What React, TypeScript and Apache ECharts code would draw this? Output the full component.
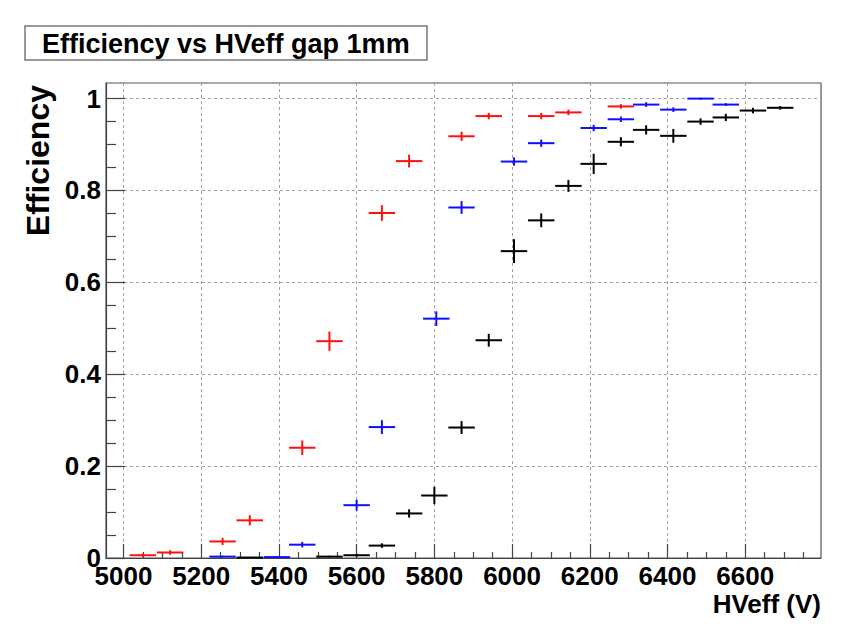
import React, { useEffect, useRef } from "react";
import * as echarts from "echarts";

// ---- data (HVeff in V, efficiency, x half-width, y error) ----
const X_HALF_WIDTH = 34;

const redX = [5050, 5120, 5255, 5325, 5460, 5530, 5665, 5735, 5870, 5940, 6075, 6145, 6280];
const redY = [0.006, 0.012, 0.036, 0.082, 0.240, 0.472, 0.751, 0.864, 0.918, 0.962, 0.962, 0.970, 0.983];
const redErr = [0.004, 0.005, 0.008, 0.011, 0.016, 0.021, 0.017, 0.014, 0.010, 0.007, 0.007, 0.006, 0.005];

const blueX = [5255, 5395, 5460, 5600, 5665, 5805, 5870, 6005, 6075, 6210, 6280, 6345, 6415, 6485, 6550];
const blueY = [0.003, 0.002, 0.029, 0.115, 0.285, 0.521, 0.763, 0.863, 0.903, 0.936, 0.955, 0.987, 0.976, 1.0, 0.987];
const blueErr = [0.002, 0.002, 0.006, 0.012, 0.015, 0.016, 0.014, 0.009, 0.008, 0.007, 0.006, 0.005, 0.005, 0.002, 0.003];

const blackX = [5325, 5530, 5600, 5665, 5735, 5800, 5870, 5940, 6005, 6075, 6145, 6210, 6280, 6345, 6415, 6485, 6550, 6620, 6690];
const blackY = [0.001, 0.003, 0.006, 0.027, 0.097, 0.136, 0.284, 0.474, 0.668, 0.735, 0.810, 0.858, 0.906, 0.932, 0.919, 0.950, 0.959, 0.974, 0.980];
const blackErr = [0.001, 0.002, 0.003, 0.005, 0.009, 0.019, 0.014, 0.014, 0.026, 0.015, 0.013, 0.022, 0.010, 0.010, 0.015, 0.007, 0.008, 0.006, 0.004];

const xMajorTicks = [5000, 5200, 5400, 5600, 5800, 6000, 6200, 6400, 6600];
const yMajorTicks = [0, 0.2, 0.4, 0.6, 0.8, 1];

const X_MIN = 4955;
const X_MAX = 6795;
const Y_MIN = 0;
const Y_MAX = 1.034;

const TITLE = "Efficiency vs HVeff gap 1mm";
const Y_TITLE = "Efficiency";
const X_TITLE = "HVeff (V)";

const FONT = "'Liberation Sans', Arial, Helvetica, sans-serif";

function buildMinor(from: number, to: number, step: number, majorStep: number): number[] {
  const out: number[] = [];
  const n = Math.round((to - from) / step);
  for (let i = 0; i <= n; i++) {
    const v = +(from + i * step).toFixed(6);
    const r = Math.abs(v / majorStep - Math.round(v / majorStep));
    if (r > 1e-6) out.push(v);
  }
  return out;
}

const xMinorTicks = buildMinor(4950, 6750, 50, 200).filter((v) => v > X_MIN && v < X_MAX);
const yMinorTicks = buildMinor(0, 1, 0.05, 0.2);

function toData(xs: number[], ys: number[], es: number[]) {
  return xs.map((x, i) => [x, ys[i], X_HALF_WIDTH, es[i]]);
}

function crossSeries(name: string, color: string, data: number[][]) {
  return {
    type: "custom",
    name,
    coordinateSystem: "cartesian2d",
    xAxisIndex: 0,
    yAxisIndex: 0,
    encode: { x: 0, y: 1 },
    data,
    renderItem: (_params: any, api: any) => {
      const x = api.value(0);
      const y = api.value(1);
      const ex = api.value(2);
      const ey = api.value(3);
      const l = api.coord([x - ex, y]);
      const r = api.coord([x + ex, y]);
      const t = api.coord([x, y + ey]);
      const b = api.coord([x, y - ey]);
      const style = { stroke: color, lineWidth: 2 };
      return {
        type: "group",
        children: [
          { type: "line", shape: { x1: l[0], y1: l[1], x2: r[0], y2: r[1] }, style },
          { type: "line", shape: { x1: t[0], y1: t[1], x2: b[0], y2: b[1] - 0.01 }, style },
        ],
      };
    },
  };
}

export default function App() {
  const ref = useRef<HTMLDivElement>(null);

  useEffect(() => {
    if (!ref.current) return;
    const chart = echarts.init(ref.current, undefined, { renderer: "svg" });
    const gridStyle = { color: "#a0a0a0", width: 1, type: [3, 3] as any };
    chart.setOption({
      animation: false,
      backgroundColor: "#ffffff",
      textStyle: { fontFamily: FONT },
      grid: {
        left: 106,
        top: 83,
        right: 33,
        bottom: 85,
        show: true,
        borderColor: "#555555",
        borderWidth: 1.2,
        backgroundColor: "transparent",
      },
      xAxis: [
        {
          type: "value",
          min: X_MIN,
          max: X_MAX,
          position: "bottom",
          axisLine: { show: true, onZero: false, lineStyle: { color: "#444444", width: 1.2 } },
          axisTick: {
            show: true,
            inside: true,
            length: 14,
            customValues: xMajorTicks,
            lineStyle: { color: "#444444", width: 1.2 },
          },
          axisLabel: {
            show: true,
            customValues: xMajorTicks,
            margin: 5,
            color: "#000000",
            fontFamily: FONT,
            fontWeight: "bold",
            fontSize: 26,
            formatter: (v: number) => String(v),
          },
          splitLine: { show: true, lineStyle: gridStyle },
          minorTick: { show: false },
        },
        {
          type: "value",
          min: X_MIN,
          max: X_MAX,
          position: "bottom",
          axisLine: { show: false, onZero: false },
          axisTick: {
            show: true,
            inside: true,
            length: 6,
            customValues: xMinorTicks,
            lineStyle: { color: "#444444", width: 1.2 },
          },
          axisLabel: { show: false },
          splitLine: { show: false },
        },
      ],
      yAxis: [
        {
          type: "value",
          min: Y_MIN,
          max: Y_MAX,
          position: "left",
          axisLine: { show: true, onZero: false, lineStyle: { color: "#444444", width: 1.2 } },
          axisTick: {
            show: true,
            inside: true,
            length: 19,
            customValues: yMajorTicks,
            lineStyle: { color: "#444444", width: 1.2 },
          },
          axisLabel: {
            show: true,
            customValues: yMajorTicks,
            margin: 5,
            color: "#000000",
            fontFamily: FONT,
            fontWeight: "bold",
            fontSize: 26,
            formatter: (v: number) => String(v),
          },
          splitLine: { show: true, lineStyle: gridStyle },
        },
        {
          type: "value",
          min: Y_MIN,
          max: Y_MAX,
          position: "left",
          axisLine: { show: false, onZero: false },
          axisTick: {
            show: true,
            inside: true,
            length: 10,
            customValues: yMinorTicks,
            lineStyle: { color: "#444444", width: 1.2 },
          },
          axisLabel: { show: false },
          splitLine: { show: false },
        },
      ],
      graphic: [
        {
          type: "rect",
          shape: { x: 25, y: 26, width: 402, height: 34 },
          style: { fill: "#ffffff", stroke: "#777777", lineWidth: 1.5 },
          z: 10,
        },
        {
          type: "text",
          x: 42,
          y: 44,
          z: 11,
          style: {
            text: TITLE,
            fill: "#000000",
            font: `bold 27px ${FONT}`,
            align: "left",
            verticalAlign: "middle",
          },
        },
        {
          type: "text",
          x: 38,
          y: 85,
          rotation: Math.PI / 2,
          z: 11,
          style: {
            text: Y_TITLE,
            fill: "#000000",
            font: `bold 32px ${FONT}`,
            align: "right",
            verticalAlign: "middle",
          },
        },
        {
          type: "text",
          x: 821,
          y: 604,
          z: 11,
          style: {
            text: X_TITLE,
            fill: "#000000",
            font: `bold 26px ${FONT}`,
            align: "right",
            verticalAlign: "middle",
          },
        },
      ],
      series: [
        crossSeries("red", "#ff1010", toData(redX, redY, redErr)),
        crossSeries("blue", "#1010ff", toData(blueX, blueY, blueErr)),
        crossSeries("black", "#000000", toData(blackX, blackY, blackErr)),
      ],
    });
    return () => chart.dispose();
  }, []);

  return (
    <div
      ref={ref}
      style={{ position: "fixed", left: 0, top: 0, width: 854, height: 643, background: "#ffffff" }}
    />
  );
}
